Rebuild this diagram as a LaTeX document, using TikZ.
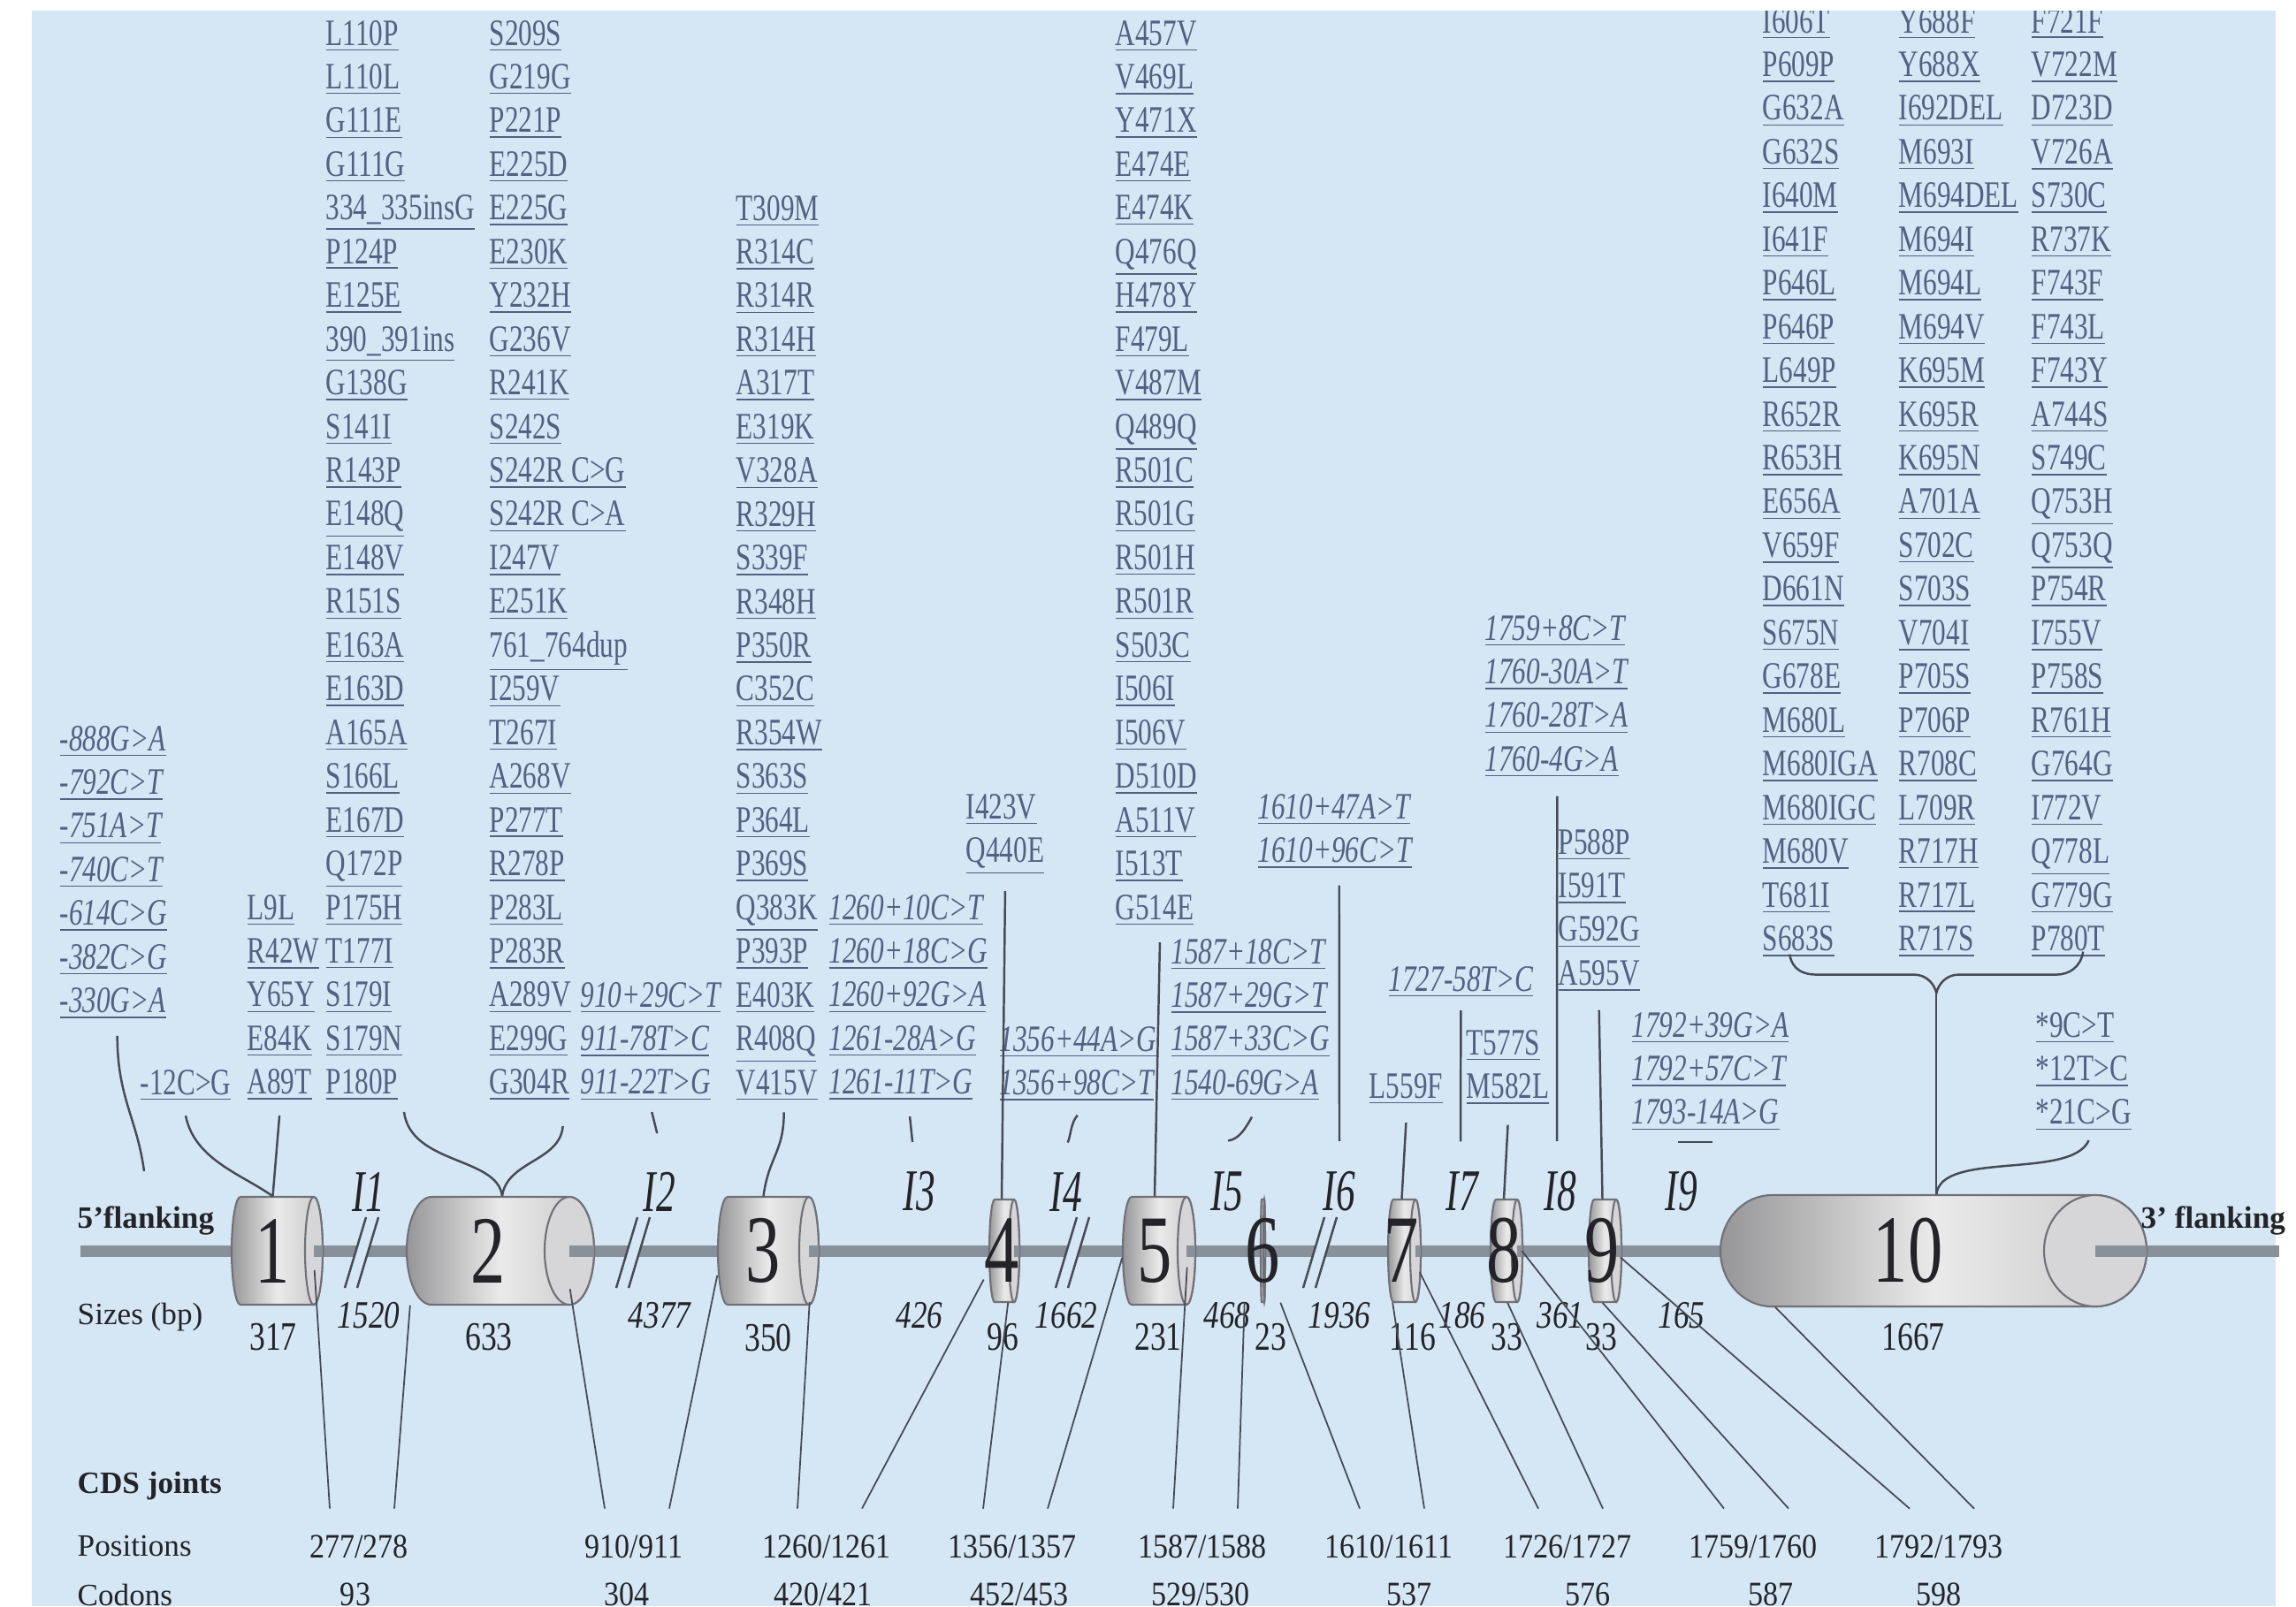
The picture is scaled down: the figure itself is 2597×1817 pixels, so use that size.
\documentclass[tikz,border=0pt]{standalone}
\usepackage{fontspec}
\setmainfont{Liberation Serif}
\usepackage{tikz}
\usetikzlibrary{calc}

\definecolor{bgblue}{RGB}{213,231,245}
\definecolor{mutblue}{RGB}{82,96,130}
\definecolor{ink}{RGB}{35,35,40}
\definecolor{wire}{RGB}{70,74,84}
\definecolor{genegray}{RGB}{136,144,153}
\definecolor{exdark}{RGB}{150,150,152}
\definecolor{exlight}{RGB}{234,234,234}
\definecolor{exmid}{RGB}{200,200,202}
\definecolor{facegray}{RGB}{214,214,216}
\definecolor{exedge}{RGB}{112,112,118}

% mutation labels: upright / italic, underlined and condensed
\newcommand\mt[1]{\scalebox{0.74}[1]{\underline{#1}}}
\newcommand\mi[1]{\scalebox{0.74}[1]{\underline{\itshape #1}}}
% a column of mutations: name, left x, first baseline, label macro, list
\newcommand\mcol[5]{%
  \foreach \m [count=\i] in {#5}
    \node[mut] (#1-\i) at (#2,{#3+(\i-1)*49.45}) {#4{\m}};}
% an exon cylinder: name, number, x1, x2, end radius, half height
\newcommand\exon[6]{%
  \shadedraw[exbody] (#3+#5,1415-#6) -- (#4-#5,1415-#6) arc(-90:90:#5 and #6)
    -- (#3+#5,1415+#6) arc(90:270:#5 and #6) -- cycle;
  \filldraw[exend] (#4-#5,1415) ellipse (#5 and #6);
  \draw[gene] (#4-#5,1415) -- (#4,1415);
  \node[exnum, minimum width={(#4-#5-#3)*0.01cm}, minimum height={2*#6*0.01cm}]
    (#1) at ({(#3+#4-#5)/2},1415) {\scalebox{0.72}[1]{#2}};}
% intron break marks
\newcommand\brk[1]{%
  \fill[bgblue] (#1-16,1457) -- (#1+8,1377) -- (#1+22,1377) -- (#1-2,1457) -- cycle;
  \draw[ptr] (#1-16,1457) -- (#1+8,1377) (#1-2,1457) -- (#1+22,1377);}

\begin{document}
\begin{tikzpicture}[x=0.01cm, y=-0.01cm,
  mut/.style={anchor=base west, inner sep=0pt, text=mutblue, font=\fontsize{12}{12}\selectfont},
  ptr/.style={draw=wire, line width=0.7pt},
  joint/.style={draw=wire, line width=0.5pt},
  gene/.style={draw=genegray, line width=3.7pt},
  exbody/.style={left color=exdark, right color=exmid, middle color=exlight, draw=exedge, line width=0.6pt},
  exend/.style={fill=facegray, draw=exedge, line width=0.6pt},
  exnum/.style={inner sep=0pt, text=ink, font=\fontsize{31}{31}\selectfont},
  lab/.style={anchor=base west, inner sep=0pt, text=ink, font=\fontsize{10}{10}\selectfont},
  blab/.style={lab, font=\fontsize{10}{10}\selectfont\bfseries},
  inl/.style={inner sep=0pt, text=ink, font=\fontsize{19}{19}\selectfont\itshape},
  isz/.style={inner sep=0pt, text=ink, font=\fontsize{12.5}{12.5}\selectfont\itshape},
  esz/.style={inner sep=0pt, text=ink, font=\fontsize{13}{13}\selectfont},
  joinlab/.style={anchor=base, inner sep=0pt, text=ink, font=\fontsize{11}{11}\selectfont}]
\useasboundingbox (0,0) rectangle (2597,1817);
\clip (0,0) rectangle (2597,1817);
\fill[white] (0,0) rectangle (2597,1817);
\fill[bgblue] (36,12) rectangle (2574,1817);

% gene line, breaks and exons
\draw[gene] (91,1415) -- (2578,1415);
\foreach \x in {406,713,1210,1490} {\brk{\x}}
\exon{ex1}{1}{262}{365}{10}{61}
\exon{ex2}{2}{460}{672}{28}{61}
\exon{ex3}{3}{812}{926}{11}{61}
\exon{ex4}{4}{1119}{1153}{6}{58}
\exon{ex5}{5}{1270}{1352}{10}{61}
\exon{ex6}{6}{1426}{1431}{1}{58}
\exon{ex7}{7}{1570}{1607}{6}{58}
\exon{ex8}{8}{1686}{1722}{6}{58}
\exon{ex9}{9}{1797}{1834}{6}{58}
\exon{ex10}{10}{1946}{2428}{58}{63}

% row labels
\node[blab] (flank5) at (87,1389) {5'flanking};
\node[blab] (flank3) at (2421,1389) {3' flanking};
\node[lab] (sizes) at (87,1498) {Sizes (bp)};
\node[blab] (cds) at (87,1689) {CDS joints};
\node[lab] (posl) at (87,1760) {Positions};
\node[lab] (codl) at (87,1816) {Codons};

% introns and sizes
\foreach \n/\x/\s in {1/417/1520, 2/746/4377, 3/1040/426, 4/1206/1662, 5/1388/468,
    6/1515/1936, 7/1654/186, 8/1765/361, 9/1902/165} {
  \node[inl] (in\n) at (\x,1348) {\scalebox{0.65}[1]{I\n}};
  \node[isz] (is\n) at (\x,1488) {\scalebox{0.8}[1]{\s}};
}
\foreach \n/\x/\s in {1/309/317, 2/553/633, 3/869/350, 4/1134/96, 5/1310/231,
    6/1437/23, 7/1598/116, 8/1704/33, 9/1811/33, 10/2164/1667}
  \node[esz] (es\n) at (\x,1513) {\scalebox{0.78}[1]{\s}};

% CDS joints
\foreach \x/\tx [count=\i] in {406/277\slash 278, 717/910\slash 911, 935/1260\slash 1261,
    1145/1356\slash 1357, 1360/1587\slash 1588, 1571/1610\slash 1611, 1773/1726\slash 1727,
    1983/1759\slash 1760, 2193/1792\slash 1793}
  \node[joinlab] (pos\i) at (\x,1762) {\scalebox{0.88}[1]{\tx}};
\foreach \x/\tx [count=\i] in {402/93, 709/304, 931/420\slash 421, 1153/452\slash 453,
    1358/529\slash 530, 1594/537, 1796/576, 2003/587, 2193/598}
  \node[joinlab] (cod\i) at (\x,1816) {\scalebox{0.88}[1]{\tx}};
\foreach \p/\a/\b in {1/ex1.-25/ex2.215, 2/ex2.-25/ex3.208, 3/ex3.-48/ex4.238,
    4/ex4.-83/ex5.192, 5/ex5.-27/ex6.south west, 6/ex6.south east/ex7.-100,
    7/ex7.-50/ex8.-86, 8/ex8.east/ex9.south, 9/ex9.-20/ex10.203} {
  \draw[joint] (\a) -- ($(pos\p.north)+(-33,-29)$);
  \draw[joint] (\b) -- ($(pos\p.north)+(40,-29)$);
}

% mutations
\mcol{fl}{67}{849}{\mi}{-888G>A,-792C>T,-751A>T,-740C>T,-614C>G,-382C>G,-330G>A}
\mcol{m12}{158}{1238}{\mt}{-12C>G}
\mcol{e1}{279}{1040}{\mt}{L9L,R42W,Y65Y,E84K,A89T}
\mcol{e2a}{368}{51}{\mt}{L110P,L110L,G111E,G111G,334\_335insG,P124P,E125E,390\_391ins,
  G138G,S141I,R143P,E148Q,E148V,R151S,E163A,E163D,A165A,S166L,E167D,Q172P,P175H,
  T177I,S179I,S179N,P180P}
\mcol{e2b}{553}{51}{\mt}{S209S,G219G,P221P,E225D,E225G,E230K,Y232H,G236V,R241K,S242S,
  S242R C>G,S242R C>A,I247V,E251K,761\_764dup,I259V,T267I,A268V,P277T,R278P,P283L,
  P283R,A289V,E299G,G304R}
\mcol{i2}{656}{1139}{\mi}{910+29C>T,911-78T>C,911-22T>G}
\mcol{e3}{832}{249}{\mt}{T309M,R314C,R314R,R314H,A317T,E319K,V328A,R329H,S339F,R348H,
  P350R,C352C,R354W,S363S,P364L,P369S,Q383K,P393P,E403K,R408Q,V415V}
\mcol{i3}{937}{1040}{\mi}{1260+10C>T,1260+18C>G,1260+92G>A,1261-28A>G,1261-11T>G}
\mcol{e4}{1092}{926}{\mt}{I423V,Q440E}
\mcol{i4}{1130}{1189}{\mi}{1356+44A>G,1356+98C>T}
\mcol{e5}{1261}{51}{\mt}{A457V,V469L,Y471X,E474E,E474K,Q476Q,H478Y,F479L,V487M,Q489Q,
  R501C,R501G,R501H,R501R,S503C,I506I,I506V,D510D,A511V,I513T,G514E}
\mcol{i5}{1324}{1090}{\mi}{1587+18C>T,1587+29G>T,1587+33C>G,1540-69G>A}
\mcol{i6}{1422}{926}{\mi}{1610+47A>T,1610+96C>T}
\mcol{i7}{1570}{1121}{\mi}{1727-58T>C}
\mcol{e7}{1548}{1242}{\mt}{L559F}
\mcol{e8}{1658}{1193}{\mt}{T577S,M582L}
\mcol{i8}{1679}{724}{\mi}{1759+8C>T,1760-30A>T,1760-28T>A,1760-4G>A}
\mcol{e9}{1762}{966}{\mt}{P588P,I591T,G592G,A595V}
\mcol{i9}{1845}{1173}{\mi}{1792+39G>A,1792+57C>T,1793-14A>G}
\mcol{e10a}{1993}{37}{\mt}{I606T,P609P,G632A,G632S,I640M,I641F,P646L,P646P,L649P,R652R,
  R653H,E656A,V659F,D661N,S675N,G678E,M680L,M680IGA,M680IGC,M680V,T681I,S683S}
\mcol{e10b}{2147}{37}{\mt}{Y688F,Y688X,I692DEL,M693I,M694DEL,M694I,M694L,M694V,K695M,
  K695R,K695N,A701A,S702C,S703S,V704I,P705S,P706P,R708C,L709R,R717H,R717L,R717S}
\mcol{e10c}{2297}{37}{\mt}{F721F,V722M,D723D,V726A,S730C,R737K,F743F,F743L,F743Y,A744S,
  S749C,Q753H,Q753Q,P754R,I755V,P758S,R761H,G764G,I772V,Q778L,G779G,P780T}
\mcol{u3}{2302}{1173}{\mt}{*9C>T,*12T>C,*21C>G}

% pointers from the mutation groups
\coordinate (fl5) at (163,1325);
\draw[ptr] ($(fl-7.south)+(5,18)$) .. controls +(0,70) and +(-8,-60) .. (fl5);
\draw[ptr] ($(m12-1.south)+(0,16)$) .. controls +(10,50) and +(-35,-25) .. (ex1.north);
\draw[ptr] ($(e1-5.south)+(0,16)$) -- (ex1.north);
\draw[ptr] ($(e2a-25.south east)+(6,12)$) .. controls +(8,60) and +(-5,-45) .. ([xshift=0.16cm]ex2.north);
\draw[ptr] ($(e2b-25.south east)+(-8,28)$) .. controls +(-3,40) and +(5,-40) .. ([xshift=0.16cm]ex2.north);
\draw[ptr] ($(i2-3.south)+(7,12)$) -- +(6,24);
\draw[ptr] ($(e3-21.south)+(8,12)$) .. controls +(0,45) and +(6,-45) .. (ex3.north);
\draw[ptr] ($(i3-5.south)+(10,17)$) -- +(3,29);
\draw[ptr] ($(e4-2.south)+(0,18)$) -- (ex4.north);
\draw[ptr] ($(i4-2.south)+(1,15)$) .. controls +(-8,10) and +(4,-10) .. +(-11,31);
\draw[ptr] ($(e5-21.south)+(6,18)$) -- (ex5.north);
\draw[ptr] ($(i5-4.south)+(8,17)$) .. controls +(-6,10) and +(14,-2) .. +(-27,27);
\draw[ptr] ($(i6-2.south)+(5,18)$) -- ($(in6.north)+(0,-34)$);
\draw[ptr] ($(e7-1.south)+(0,20)$) -- (ex7.north);
\draw[ptr] ($(i7-1.south)+(0,14)$) -- ($(in7.north)+(-2,-34)$);
\draw[ptr] ($(e8-2.south)+(0,22)$) -- (ex8.north);
\draw[ptr] ($(i8-4.south)+(6,20)$) -- ($(in8.north)+(-4,-34)$);
\draw[ptr] ($(e9-4.south)+(0,20)$) -- (ex9.north);
\draw[ptr] ($(i9-3.south)+(-31,12)$) -- +(39,0);
\coordinate (tip10) at ($(e10b-22.south)+(0,40)$);
\draw[ptr] ($(tip10)+(-166,-44)$) .. controls +(3,18) and +(-15,0) .. ($(tip10)+(-135,-21)$)
  -- ($(tip10)+(-25,-21)$) .. controls +(14,0) and +(-2,-10) .. (tip10)
  .. controls +(2,-10) and +(-14,0) .. ($(tip10)+(25,-21)$)
  -- ($(tip10)+(135,-21)$) .. controls +(15,0) and +(-3,18) .. ($(tip10)+(166,-47)$);
\draw[ptr] (tip10) -- (tip10 |- ex10.north);
\draw[ptr] ($(u3-3.south)+(6,10)$) .. controls +(-20,45) and +(5,-50) .. (tip10 |- ex10.north);

\fill[white] (0,0) rectangle (2597,12);
\end{tikzpicture}
\end{document}
